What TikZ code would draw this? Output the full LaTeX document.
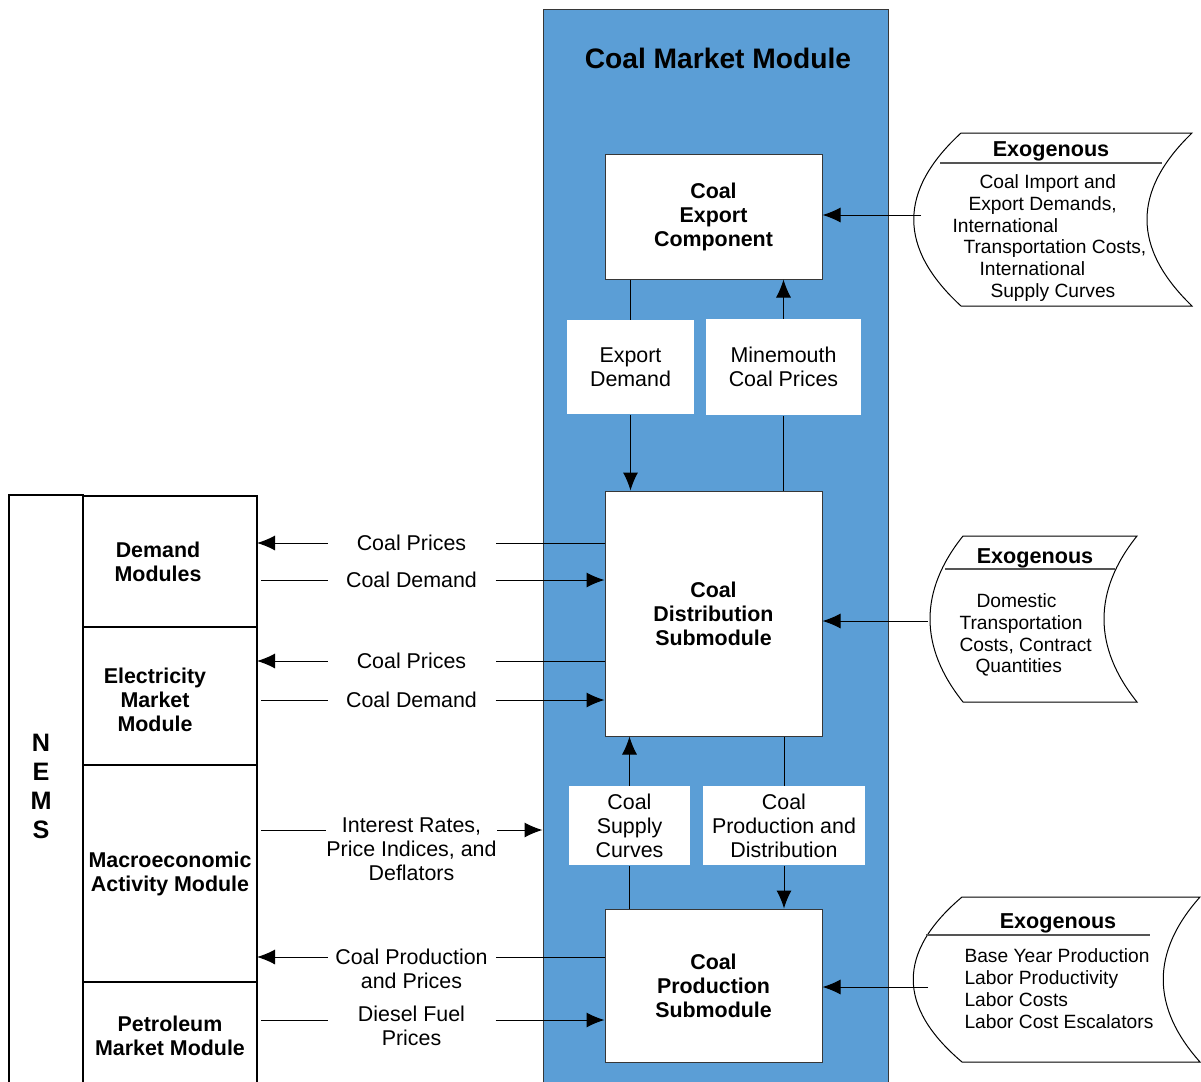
\documentclass[tikz,border=0pt]{standalone}
\usepackage{fontspec}
\setmainfont{Liberation Sans}
\usepackage{tikz}
\usetikzlibrary{calc}
\usetikzlibrary{positioning}
\usetikzlibrary{arrows.meta}
\definecolor{cmmblue}{RGB}{91,158,214}
\definecolor{edge}{RGB}{55,55,55}
\definecolor{rule}{RGB}{85,85,85}

\tikzset{
    >={Latex[length=9pt,width=7.5pt]},
    module/.style={
        draw=edge,
        fill=white,
        align=center,
        inner sep=0pt,
        font=\fontsize{10.7}{12}\selectfont\bfseries,
    },
    flowbox/.style={
        fill=white,
        align=center,
        inner sep=0pt,
        font=\fontsize{10.7}{12}\selectfont,
    },
    nemsbox/.style={
        draw,
        line width=0.6pt,
        outer sep=0pt,
        inner sep=0pt,
        align=center,
        minimum width=87pt,
        font=\fontsize{10.7}{12}\selectfont\bfseries,
    },
    modtext/.style={
        inner sep=0pt,
        align=center,
        font=\fontsize{10.7}{12}\selectfont\bfseries,
    },
    flowlbl/.style={
        inner sep=0pt,
        align=center,
        minimum width=83.5pt,
        font=\fontsize{10.7}{12}\selectfont,
    },
    exoshape/.style={draw, line width=0.5pt},
    exorule/.style={draw=rule, line width=0.6pt},
    exotitle/.style={inner sep=0pt, font=\fontsize{10.8}{12}\selectfont\bfseries},
    exobody/.style={inner sep=0pt, align=left, anchor=west, font=\fontsize{9.6}{10.9}\selectfont},
}

\begin{document}
\begin{tikzpicture}[x=0.5pt, y=-0.5pt, line width=0.5pt]
    \useasboundingbox (0,0) rectangle (1201,1082);
    \clip (0,0) rectangle (1201,1082);

    % coal market module
    \node (cmm) at (715.5,549.5) [draw=edge, fill=cmmblue, minimum width=172.5pt, minimum height=540.5pt] {};
    \node (title) at (718,58) [inner sep=0pt, font=\fontsize{14.1}{17}\selectfont\bfseries] {Coal Market Module};

    \node (export) at (713.5,216.5) [module, minimum width=108.5pt, minimum height=62.5pt] {Coal\\Export\\Component};
    \node (dist) at (713.5,613.5) [module, minimum width=108.5pt, minimum height=122.5pt] {Coal\\Distribution\\Submodule};
    \node (prod) at (713.5,985.5) [module, minimum width=108.5pt, minimum height=76.5pt] {Coal\\Production\\Submodule};

    \node (expdem) at (630.5,367) [flowbox, minimum width=63.5pt, minimum height=47pt] {Export\\Demand};
    \node (mmcp) at (783.5,367) [flowbox, minimum width=77.5pt, minimum height=48pt] {Minemouth\\Coal Prices};
    \node (csc) at (629.5,825.5) [flowbox, minimum width=60.5pt, minimum height=39.5pt] {Coal\\Supply\\Curves};
    \node (cpd) at (784,825.5) [flowbox, minimum width=81pt, minimum height=39.5pt] {Coal\\Production and\\Distribution};

    \draw (expdem.north |- export.south) -- (expdem.north);
    \draw[->] (expdem.south) -- (expdem.south |- dist.north);
    \draw (mmcp.south |- dist.north) -- (mmcp.south);
    \draw[->] (mmcp.north) -- (mmcp.north |- export.south);
    \draw (csc.south |- prod.north) -- (csc.south);
    \draw[->] (csc.north) -- (csc.north |- dist.south);
    \draw (cpd.north |- dist.south) -- (cpd.north);
    \draw[->] (cpd.south) -- (cpd.south |- prod.north);

    % nems
    \node (nems) at (46,792.5) [nemsbox, minimum width=37pt, minimum height=297.5pt,
        label={[modtext, xshift=-2.5pt, yshift=3pt, font=\fontsize{12.6}{14.5}\selectfont\bfseries]center:{N\\E\\M\\S}}] {};
    \node (demand) at (170,561.5) [nemsbox, minimum height=65.5pt,
        label={[modtext, xshift=-6pt]center:{Demand\\Modules}}] {};
    \node (elec) [nemsbox, below=0pt of demand, minimum height=69pt,
        label={[modtext, xshift=-7.5pt, yshift=-2pt]center:{Electricity\\Market\\Module}}] {};
    \node (macro) [nemsbox, below=0pt of elec, minimum height=108.5pt] {Macroeconomic\\Activity Module};
    \node (petro) [nemsbox, below=0pt of macro, minimum height=54pt] {Petroleum\\Market Module};

    % flows between nems and the coal market module
    \node (cp1) at (411.5,543) [flowlbl] {Coal Prices};
    \node (cd1) at (411.5,580) [flowlbl] {Coal Demand};
    \node (cp2) at (411.5,661) [flowlbl] {Coal Prices};
    \node (cd2) at (411.5,700) [flowlbl] {Coal Demand};
    \node (irl) at (411.5,849) [flowlbl] {Interest Rates,\\Price Indices, and\\Deflators};
    \node (cpp) at (411.5,969) [flowlbl] {Coal Production\\and Prices};
    \node (dfp) at (411.5,1026) [flowlbl] {Diesel Fuel\\Prices};
    \coordinate (irlev) at (411.5,830);
    \coordinate (cpplev) at (411.5,957);
    \coordinate (dfplev) at (411.5,1020);

    \draw (dist.west |- cp1) -- (cp1.east);
    \draw[->] (cp1.west) -- (cp1.west -| demand.east);
    \draw[shorten <=2pt] (cd1.west -| demand.east) -- (cd1.west);
    \draw[->] (cd1.east) -- (cd1.east -| dist.west);
    \draw (dist.west |- cp2) -- (cp2.east);
    \draw[->] (cp2.west) -- (cp2.west -| elec.east);
    \draw[shorten <=2pt] (cd2.west -| elec.east) -- (cd2.west);
    \draw[->] (cd2.east) -- (cd2.east -| dist.west);
    \draw[shorten <=2pt] (irlev -| macro.east) -- (irlev -| irl.west);
    \draw[->] (irlev -| irl.east) -- (irlev -| cmm.west);
    \draw (cpplev -| prod.west) -- (cpplev -| cpp.east);
    \draw[->] (cpplev -| cpp.west) -- (cpplev -| macro.east);
    \draw[shorten <=2pt] (dfplev -| petro.east) -- (dfplev -| dfp.west);
    \draw[->] (dfplev -| dfp.east) -- (dfplev -| prod.west);

    % exogenous inputs
    \draw[exoshape] (961,133) -- (1192,133) .. controls (1132,191) and (1132,248) .. (1192,306)
        -- (961,306) .. controls (898,248) and (898,191) .. (961,133) -- cycle;
    \draw[exorule] (940,163) -- (1162,163);
    \node (exo1t) at (1051,151) [exotitle] {Exogenous};
    \node (exo1b) at (952,238) [exobody] {\hspace*{13.5pt}Coal Import and\\\hspace*{8pt}Export Demands,\\International\\\hspace*{5.5pt}Transportation Costs,\\\hspace*{13.5pt}International\\\hspace*{19pt}Supply Curves};
    \coordinate (exo1in) at (921,215);
    \draw[->] (exo1in) -- (exo1in -| export.east);

    \draw[exoshape] (963,536) -- (1137,536) .. controls (1093,591) and (1093,647) .. (1137,702)
        -- (963,702) .. controls (919,647) and (919,591) .. (963,536) -- cycle;
    \draw[exorule] (945,569) -- (1115,569);
    \node (exo2t) at (1035,558) [exotitle] {Exogenous};
    \node (exo2b) at (959,635) [exobody] {\hspace*{8.5pt}Domestic\\Transportation\\Costs, Contract\\\hspace*{8pt}Quantities};
    \coordinate (exo2in) at (928,621);
    \draw[->] (exo2in) -- (exo2in -| dist.east);

    \draw[exoshape] (962,897) -- (1200,897) .. controls (1151,952) and (1151,1007) .. (1200,1062)
        -- (962,1062) .. controls (897,1007) and (897,952) .. (962,897) -- cycle;
    \draw[exorule] (926,935) -- (1150,935);
    \node (exo3t) at (1058,923) [exotitle] {Exogenous};
    \node (exo3b) at (964,988.5) [exobody] {Base Year Production\\Labor Productivity\\Labor Costs\\Labor Cost Escalators};
    \coordinate (exo3in) at (928,987);
    \draw[->] (exo3in) -- (exo3in -| prod.east);
\end{tikzpicture}
\end{document}
